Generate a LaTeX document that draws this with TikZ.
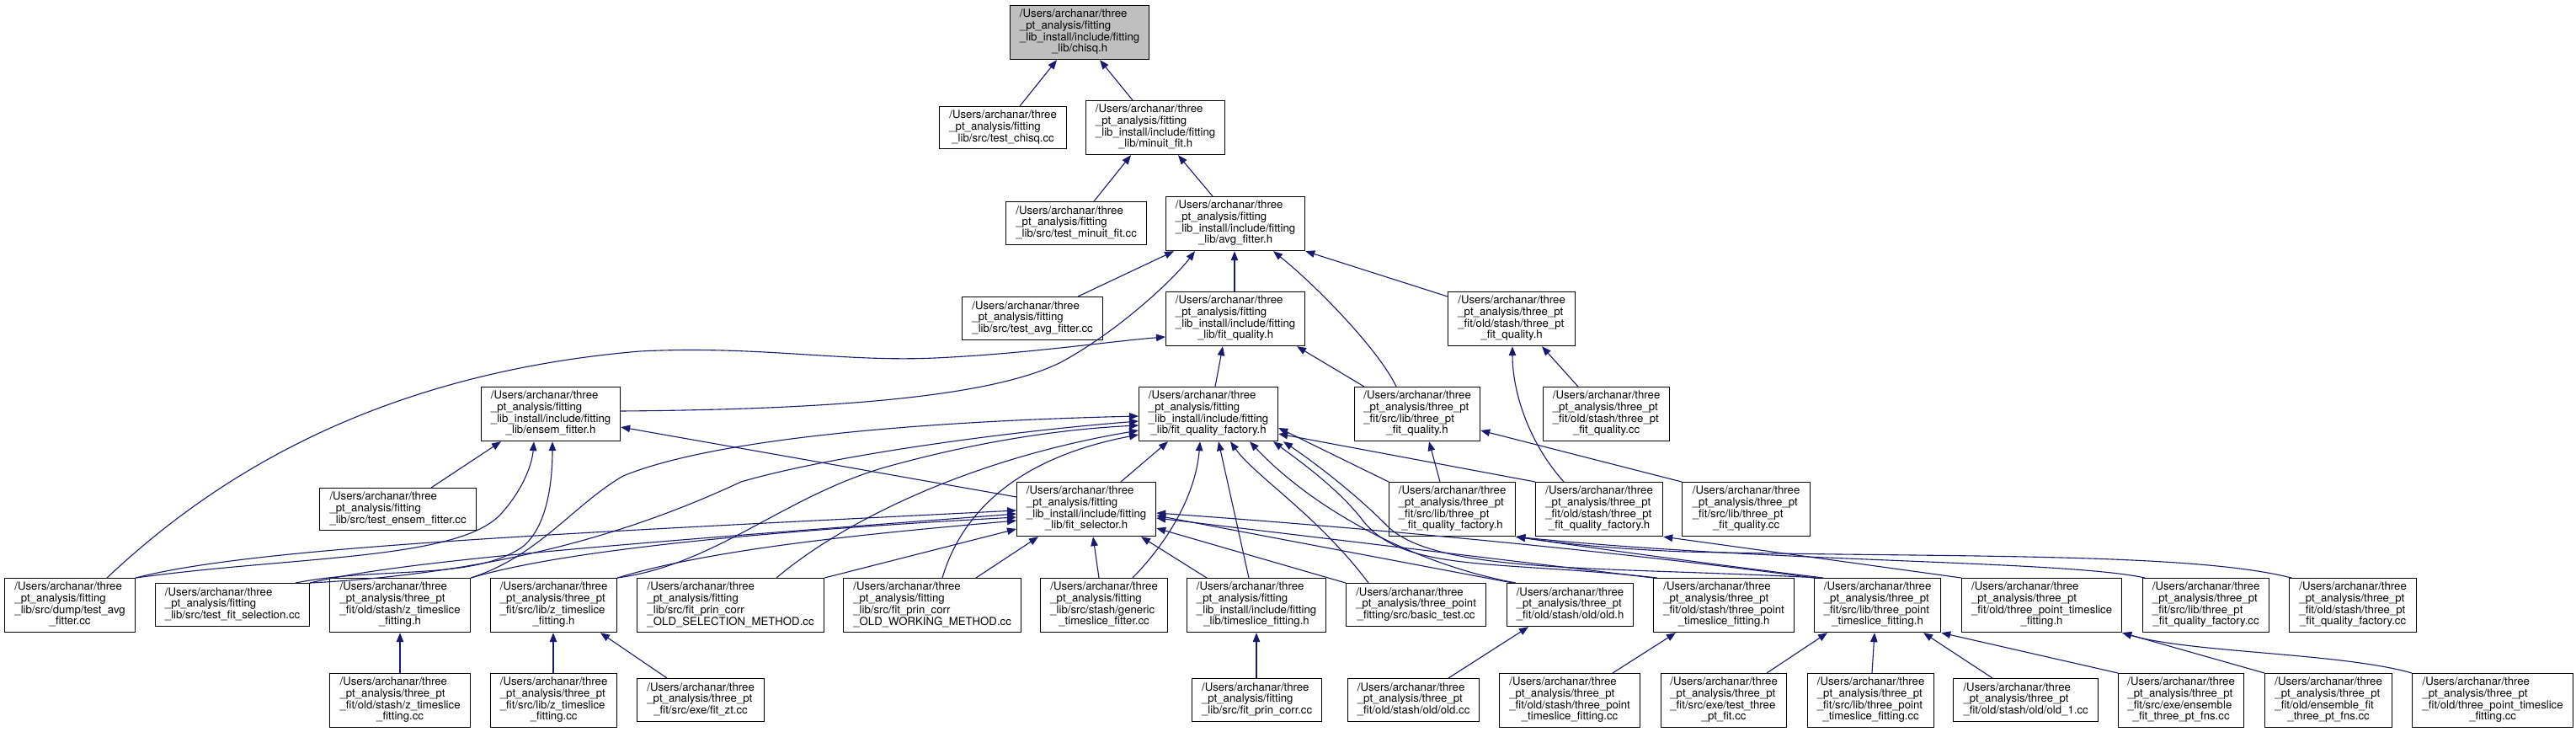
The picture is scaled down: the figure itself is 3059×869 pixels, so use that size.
\documentclass[tikz,border=0pt]{standalone}
\usepackage{fontspec}
\setmainfont{TeX Gyre Heros}
\usetikzlibrary{arrows.meta}
\definecolor{edgecol}{HTML}{191970}
\definecolor{boxfill}{HTML}{BFBFBF}
\newcommand\usr{/Users/archanar/three}
\newcommand\lastl[1]{\multicolumn{1}{@{}c@{}}{#1}}
\newcommand\pfit{\usr\\\_pt\_analysis/fitting\\}
\newcommand\pinc{\pfit\_lib\_install/include/fitting\\}
\newcommand\pthr{\usr\\\_pt\_analysis/three\_pt\\}
\newcommand\fnode[7][]{\node[fbox,#1,minimum width=#5pt-#3pt,minimum height=#6pt-#4pt] (#2) at (#3,#4) {\begin{tabular}{@{}l@{}}#7\end{tabular}};}
\begin{document}
\begin{tikzpicture}[x=1pt,y=-1pt,
  fbox/.style={draw=black, line width=1.2pt, anchor=north west, inner sep=0pt, fill=white,
    font=\fontsize{13.2}{13.3}\selectfont},
  edge/.style={draw=edgecol, line width=1.1pt, -{Triangle[length=11pt,width=8.5pt]}}]
\fill[white] (0,0) rectangle (3059,869);
\useasboundingbox (0,0) rectangle (3059,869);

% ---------------- nodes ----------------
% row 0
\fnode[fill=boxfill]{chisq}{1199}{6}{1364}{70}{\pinc\lastl{\_lib/chisq.h}}
% row 1
\fnode{tchisq}{1115}{126}{1266}{176}{\pfit\lastl{\_lib/src/test\_chisq.cc}}
\fnode{minuit}{1289}{119}{1454}{183}{\pinc\lastl{\_lib/minuit\_fit.h}}
% row 2
\fnode{tminuit}{1194}{239}{1361}{290}{\pfit\lastl{\_lib/src/test\_minuit\_fit.cc}}
\fnode{avg}{1384}{233}{1549}{297}{\pinc\lastl{\_lib/avg\_fitter.h}}
% row 3
\fnode{tavg}{1142}{352}{1309}{403}{\pfit\lastl{\_lib/src/test\_avg\_fitter.cc}}
\fnode{fitq}{1384}{346}{1549}{410}{\pinc\lastl{\_lib/fit\_quality.h}}
\fnode{stashq}{1719}{346}{1870}{410}{\pthr\_fit/old/stash/three\_pt\\\lastl{\_fit\_quality.h}}
% row 4
\fnode{ensem}{571}{459}{736}{523}{\pinc\lastl{\_lib/ensem\_fitter.h}}
\fnode{fqf}{1352}{459}{1517}{523}{\pinc\lastl{\_lib/fit\_quality\_factory.h}}
\fnode{srcq}{1608}{459}{1757}{523}{\pthr\_fit/src/lib/three\_pt\\\lastl{\_fit\_quality.h}}
\fnode{stashqcc}{1832}{459}{1982}{523}{\pthr\_fit/old/stash/three\_pt\\\lastl{\_fit\_quality.cc}}
% row 5
\fnode{tensem}{379}{579}{565}{629}{\pfit\lastl{\_lib/src/test\_ensem\_fitter.cc}}
\fnode{sel}{1207}{572}{1372}{636}{\pinc\lastl{\_lib/fit\_selector.h}}
\fnode{srcfqf}{1649}{572}{1799}{636}{\pthr\_fit/src/lib/three\_pt\\\lastl{\_fit\_quality\_factory.h}}
\fnode{stashfqf}{1823}{572}{1974}{636}{\pthr\_fit/old/stash/three\_pt\\\lastl{\_fit\_quality\_factory.h}}
\fnode{srcqcc}{1997}{572}{2149}{636}{\pthr\_fit/src/lib/three\_pt\\\lastl{\_fit\_quality.cc}}
% row 6
\fnode{dump}{5}{686}{160}{750}{\pfit\_lib/src/dump/test\_avg\\\lastl{\_fitter.cc}}
\fnode{tfs}{184}{692}{367}{743}{\pfit\lastl{\_lib/src/test\_fit\_selection.cc}}
\fnode{ozh}{391}{686}{558}{750}{\pthr\_fit/old/stash/z\_timeslice\\\lastl{\_fitting.h}}
\fnode{szh}{582}{686}{732}{750}{\pthr\_fit/src/lib/z\_timeslice\\\lastl{\_fitting.h}}
\fnode{osel}{756}{686}{978}{750}{\pfit\_lib/src/fit\_prin\_corr\\\lastl{\_OLD\_SELECTION\_METHOD.cc}}
\fnode{owork}{1001}{686}{1212}{750}{\pfit\_lib/src/fit\_prin\_corr\\\lastl{\_OLD\_WORKING\_METHOD.cc}}
\fnode{gen}{1235}{686}{1386}{750}{\pfit\_lib/src/stash/generic\\\lastl{\_timeslice\_fitter.cc}}
\fnode{tsf}{1409}{686}{1574}{750}{\pinc\lastl{\_lib/timeslice\_fitting.h}}
\fnode{basic}{1598}{692}{1764}{743}{\usr\\\_pt\_analysis/three\_point\\\lastl{\_fitting/src/basic\_test.cc}}
\fnode{oldh}{1789}{692}{1939}{743}{\pthr\lastl{\_fit/old/stash/old/old.h}}
\fnode{ostp}{1963}{686}{2130}{750}{\pthr\_fit/old/stash/three\_point\\\lastl{\_timeslice\_fitting.h}}
\fnode{sltp}{2154}{686}{2304}{750}{\pthr\_fit/src/lib/three\_point\\\lastl{\_timeslice\_fitting.h}}
\fnode{otp}{2329}{686}{2519}{750}{\pthr\_fit/old/three\_point\_timeslice\\\lastl{\_fitting.h}}
\fnode{srcfqfcc}{2544}{686}{2694}{750}{\pthr\_fit/src/lib/three\_pt\\\lastl{\_fit\_quality\_factory.cc}}
\fnode{stashfqfcc}{2718}{686}{2869}{750}{\pthr\_fit/old/stash/three\_pt\\\lastl{\_fit\_quality\_factory.cc}}
% row 7
\fnode{ozcc}{391}{799}{558}{863}{\pthr\_fit/old/stash/z\_timeslice\\\lastl{\_fitting.cc}}
\fnode{szcc}{582}{799}{732}{863}{\pthr\_fit/src/lib/z\_timeslice\\\lastl{\_fitting.cc}}
\fnode{fitzt}{756}{805}{907}{856}{\pthr\lastl{\_fit/src/exe/fit\_zt.cc}}
\fnode{fpc}{1415}{805}{1569}{856}{\pfit\lastl{\_lib/src/fit\_prin\_corr.cc}}
\fnode{oldcc}{1600}{805}{1756}{856}{\pthr\lastl{\_fit/old/stash/old/old.cc}}
\fnode{ostpcc}{1780}{799}{1947}{863}{\pthr\_fit/old/stash/three\_point\\\lastl{\_timeslice\_fitting.cc}}
\fnode{ttpf}{1972}{799}{2121}{863}{\pthr\_fit/src/exe/test\_three\\\lastl{\_pt\_fit.cc}}
\fnode{sltpcc}{2146}{799}{2296}{863}{\pthr\_fit/src/lib/three\_point\\\lastl{\_timeslice\_fitting.cc}}
\fnode{old1}{2319}{805}{2491}{856}{\pthr\lastl{\_fit/old/stash/old/old\_1.cc}}
\fnode{sefit}{2515}{799}{2664}{863}{\pthr\_fit/src/exe/ensemble\\\lastl{\_fit\_three\_pt\_fns.cc}}
\fnode{oefit}{2689}{799}{2840}{863}{\pthr\_fit/old/ensemble\_fit\\\lastl{\_three\_pt\_fns.cc}}
\fnode{otpcc}{2864}{799}{3055}{863}{\pthr\_fit/old/three\_point\_timeslice\\\lastl{\_fitting.cc}}

% ---------------- edges ----------------
\draw[edge] (1211,0 |- tchisq.north) -- (1255,0 |- chisq.south);
\draw[edge] (1345,0 |- minuit.north) -- (1306,0 |- chisq.south);
\draw[edge] (1299,0 |- tminuit.north) -- (1343,0 |- minuit.south);
\draw[edge] (1440,0 |- avg.north) -- (1399,0 |- minuit.south);
\draw[edge] (1280,0 |- tavg.north) -- (1394,0 |- avg.south);
\draw[edge] (ensem.east |- 0,488) .. controls (1000,486) and (1180,470) .. (1260,430) .. controls (1330,392) and (1395,330) .. (1419,0 |- avg.south);
\draw[edge] (1466,0 |- fitq.north) -- (1466,0 |- avg.south);
\draw[edge] (1658,0 |- srcq.north) .. controls (1640,420) and (1570,345) .. (1512,0 |- avg.south);
\draw[edge] (stashq.west |- 0,352) -- (avg.south east);
\draw[edge] (127,0 |- dump.north) .. controls (240,580) and (430,445) .. (760,417) .. controls (900,410) and (1000,430) .. (1110,425) .. controls (1220,420) and (1320,405) .. (fitq.west |- 0,400);
\draw[edge] (1443,0 |- fqf.north) -- (1452,0 |- fitq.south);
\draw[edge] (1620,0 |- srcq.north) -- (1540,0 |- fitq.south);
\draw[edge] (1857,0 |- stashfqf.north) .. controls (1815,525) and (1796,465) .. (1796,0 |- stashq.south);
\draw[edge] (1874,0 |- stashqcc.north) -- (1831,0 |- stashq.south);
\draw[edge] (1710,0 |- srcfqf.north) -- (1697,0 |- srcq.south);
\draw[edge] (srcqcc.north west) -- (srcq.east |- 0,511);
\draw[edge] (1331,0 |- sel.north) -- (1387,0 |- fqf.south);
\draw[edge] (sel.west |- 0,590) -- (ensem.east |- 0,507);
\draw[edge] (srcfqf.north west) -- (fqf.east |- 0,508);
\draw[edge] (stashfqf.north west) -- (fqf.east |- 0,515);
\draw[edge] (512,0 |- tensem.north) -- (595,0 |- ensem.south);
\draw[edge] (dump.north east) .. controls (350,660) and (545,665) .. (595,610) .. controls (622,580) and (632,550) .. (634,0 |- ensem.south);
\draw[edge] (351,0 |- tfs.north) .. controls (450,672) and (565,690) .. (622,648) .. controls (652,622) and (656,565) .. (656,0 |- ensem.south);
\draw[edge] (dump.north east) .. controls (300,650) and (650,634) .. (sel.west |- 0,606);
\draw[edge] (tfs.north east) .. controls (480,665) and (750,645) .. (sel.west |- 0,610);
\draw[edge] (tfs.north east) .. controls (600,680) and (760,628) .. (880,572) .. controls (990,540) and (1200,512) .. (fqf.west |- 0,500);
\draw[edge] (ozh.north east) .. controls (680,650) and (950,628) .. (sel.west |- 0,614);
\draw[edge] (ozh.north east) .. controls (640,660) and (680,600) .. (740,565) .. controls (850,520) and (1100,500) .. (fqf.west |- 0,494);
\draw[edge] (szh.north east) .. controls (850,650) and (1050,632) .. (sel.west |- 0,618);
\draw[edge] (szh.north east) .. controls (850,670) and (930,590) .. (1050,555) .. controls (1150,527) and (1250,510) .. (fqf.west |- 0,505);
\draw[edge] (osel.north east) -- (sel.west |- 0,628);
\draw[edge] (922,0 |- osel.north) .. controls (1000,620) and (1150,545) .. (fqf.west |- 0,511);
\draw[edge] (1159,0 |- owork.north) -- (1233,0 |- sel.south);
\draw[edge] (1119,0 |- owork.north) .. controls (1140,615) and (1200,545) .. (fqf.west |- 0,516);
\draw[edge] (1305,0 |- gen.north) -- (1298,0 |- sel.south);
\draw[edge] (1345,0 |- gen.north) .. controls (1390,640) and (1420,585) .. (1425,0 |- fqf.south);
\draw[edge] (1433,0 |- tsf.north) -- (1355,0 |- sel.south);
\draw[edge] (1483,0 |- tsf.north) -- (1447,0 |- fqf.south);
\draw[edge] (basic.north west) -- (sel.east |- 0,627);
\draw[edge] (1625,0 |- basic.north) .. controls (1565,612) and (1490,565) .. (1461,0 |- fqf.south);
\draw[edge] (1796,0 |- oldh.north) -- (sel.east |- 0,612);
\draw[edge] (1800,0 |- oldh.north) .. controls (1680,670) and (1560,605) .. (1484,0 |- fqf.south);
\draw[edge] (ostp.north west) -- (sel.east |- 0,615);
\draw[edge] (1968,0 |- ostp.north) .. controls (1780,665) and (1670,680) .. (1620,620) .. controls (1590,580) and (1540,545) .. (1512,0 |- fqf.south);
\draw[edge] (sltp.north west) .. controls (1900,652) and (1600,625) .. (sel.east |- 0,609);
\draw[edge] (2160,0 |- sltp.north) .. controls (1900,672) and (1700,682) .. (1645,622) .. controls (1605,582) and (1555,545) .. (1524,0 |- fqf.south);
\draw[edge] (2165,0 |- sltp.north) .. controls (2050,672) and (1900,652) .. (srcfqf.south east);
\draw[edge] (otp.north west) -- (stashfqf.south east);
\draw[edge] (2547,0 |- srcfqfcc.north) .. controls (2450,665) and (2100,668) .. (srcfqf.south east);
\draw[edge] (2721,0 |- stashfqfcc.north) .. controls (2600,655) and (2300,662) .. (2000,655) .. controls (1900,651) and (1840,643) .. (srcfqf.south east);
\draw[edge] (475,0 |- ozcc.north) -- (475,0 |- ozh.south);
\draw[edge] (657,0 |- szcc.north) -- (657,0 |- szh.south);
\draw[edge] (792,0 |- fitzt.north) -- (713,0 |- szh.south);
\draw[edge] (1492,0 |- fpc.north) -- (1492,0 |- tsf.south);
\draw[edge] (1720,0 |- oldcc.north) -- (1815,0 |- oldh.south);
\draw[edge] (1915,0 |- ostpcc.north) -- (1990,0 |- ostp.south);
\draw[edge] (2098,0 |- ttpf.north) -- (2170,0 |- sltp.south);
\draw[edge] (2223,0 |- sltpcc.north) -- (2226,0 |- sltp.south);
\draw[edge] (2366,0 |- old1.north) -- (2284,0 |- sltp.south);
\draw[edge] (sefit.north west) -- (sltp.south east);
\draw[edge] (oefit.north west) -- (otp.south east);
\draw[edge] (otpcc.north west) .. controls (2780,775) and (2600,775) .. (otp.south east);
\end{tikzpicture}
\end{document}
